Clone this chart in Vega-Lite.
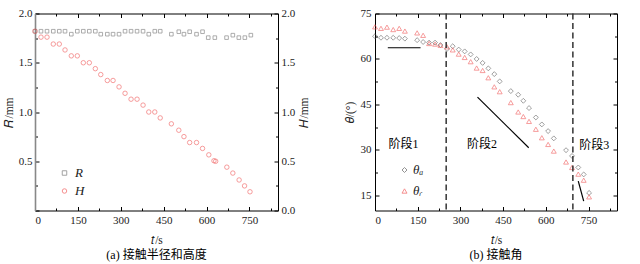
{
  "$schema": "https://vega.github.io/schema/vega-lite/v6.json",
  "padding": {"left": 3, "top": 7.5, "right": 0, "bottom": 0},
  "spacing": 33,
  "datasets": {
    "R": [
      {"t": 0, "v": 1.82, "s": "R"}, {"t": 21, "v": 1.82, "s": "R"}, {"t": 42, "v": 1.82, "s": "R"}, {"t": 64, "v": 1.82, "s": "R"},
      {"t": 85, "v": 1.82, "s": "R"}, {"t": 105, "v": 1.82, "s": "R"}, {"t": 127, "v": 1.79, "s": "R"}, {"t": 148, "v": 1.82, "s": "R"},
      {"t": 169, "v": 1.82, "s": "R"}, {"t": 190, "v": 1.82, "s": "R"}, {"t": 211, "v": 1.82, "s": "R"}, {"t": 230, "v": 1.79, "s": "R"},
      {"t": 253, "v": 1.79, "s": "R"}, {"t": 273, "v": 1.79, "s": "R"}, {"t": 294, "v": 1.79, "s": "R"}, {"t": 315, "v": 1.82, "s": "R"},
      {"t": 336, "v": 1.82, "s": "R"}, {"t": 357, "v": 1.82, "s": "R"}, {"t": 378, "v": 1.82, "s": "R"}, {"t": 398, "v": 1.79, "s": "R"},
      {"t": 419, "v": 1.82, "s": "R"}, {"t": 438, "v": 1.82, "s": "R"}, {"t": 477, "v": 1.79, "s": "R"}, {"t": 503, "v": 1.815, "s": "R"},
      {"t": 521, "v": 1.79, "s": "R"}, {"t": 541, "v": 1.815, "s": "R"}, {"t": 565, "v": 1.79, "s": "R"}, {"t": 586, "v": 1.815, "s": "R"},
      {"t": 606, "v": 1.755, "s": "R"}, {"t": 629, "v": 1.755, "s": "R"}, {"t": 670, "v": 1.755, "s": "R"}, {"t": 692, "v": 1.78, "s": "R"},
      {"t": 713, "v": 1.755, "s": "R"}, {"t": 734, "v": 1.755, "s": "R"}, {"t": 755, "v": 1.78, "s": "R"}
    ],
    "H": [
      {"t": 0, "v": 1.82, "s": "H"}, {"t": 21, "v": 1.76, "s": "H"}, {"t": 42, "v": 1.76, "s": "H"}, {"t": 64, "v": 1.69, "s": "H"},
      {"t": 85, "v": 1.69, "s": "H"}, {"t": 105, "v": 1.63, "s": "H"}, {"t": 127, "v": 1.57, "s": "H"}, {"t": 148, "v": 1.57, "s": "H"},
      {"t": 169, "v": 1.5, "s": "H"}, {"t": 190, "v": 1.5, "s": "H"}, {"t": 211, "v": 1.44, "s": "H"}, {"t": 230, "v": 1.38, "s": "H"},
      {"t": 253, "v": 1.32, "s": "H"}, {"t": 273, "v": 1.32, "s": "H"}, {"t": 294, "v": 1.255, "s": "H"}, {"t": 315, "v": 1.19, "s": "H"},
      {"t": 336, "v": 1.13, "s": "H"}, {"t": 357, "v": 1.13, "s": "H"}, {"t": 378, "v": 1.07, "s": "H"}, {"t": 398, "v": 1.0, "s": "H"},
      {"t": 419, "v": 1.0, "s": "H"}, {"t": 438, "v": 0.94, "s": "H"}, {"t": 477, "v": 0.88, "s": "H"}, {"t": 503, "v": 0.815, "s": "H"},
      {"t": 521, "v": 0.75, "s": "H"}, {"t": 541, "v": 0.69, "s": "H"}, {"t": 565, "v": 0.69, "s": "H"}, {"t": 586, "v": 0.63, "s": "H"},
      {"t": 608, "v": 0.565, "s": "H"}, {"t": 626, "v": 0.505, "s": "H"}, {"t": 632, "v": 0.5, "s": "H"}, {"t": 671, "v": 0.44, "s": "H"},
      {"t": 692, "v": 0.38, "s": "H"}, {"t": 714, "v": 0.31, "s": "H"}, {"t": 733, "v": 0.25, "s": "H"}, {"t": 752, "v": 0.19, "s": "H"}
    ],
    "theta": [
      {"t": 0, "v": 67.5, "s": "a"}, {"t": 21, "v": 67.0, "s": "a"}, {"t": 42, "v": 67.0, "s": "a"}, {"t": 64, "v": 67.0, "s": "a"},
      {"t": 85, "v": 66.9, "s": "a"}, {"t": 105, "v": 66.7, "s": "a"}, {"t": 148, "v": 66.2, "s": "a"}, {"t": 169, "v": 65.6, "s": "a"},
      {"t": 190, "v": 65.4, "s": "a"}, {"t": 211, "v": 65.4, "s": "a"}, {"t": 230, "v": 64.6, "s": "a"}, {"t": 253, "v": 63.3, "s": "a"},
      {"t": 273, "v": 64.2, "s": "a"}, {"t": 294, "v": 63.1, "s": "a"}, {"t": 315, "v": 62.5, "s": "a"}, {"t": 336, "v": 61.5, "s": "a"},
      {"t": 357, "v": 60.0, "s": "a"}, {"t": 378, "v": 58.7, "s": "a"}, {"t": 398, "v": 56.9, "s": "a"}, {"t": 419, "v": 55.0, "s": "a"},
      {"t": 438, "v": 52.6, "s": "a"}, {"t": 477, "v": 49.4, "s": "a"}, {"t": 503, "v": 48.2, "s": "a"}, {"t": 521, "v": 46.2, "s": "a"},
      {"t": 541, "v": 43.8, "s": "a"}, {"t": 565, "v": 40.7, "s": "a"}, {"t": 586, "v": 38.4, "s": "a"}, {"t": 608, "v": 36.2, "s": "a"},
      {"t": 628, "v": 33.8, "s": "a"}, {"t": 671, "v": 29.9, "s": "a"}, {"t": 692, "v": 28.0, "s": "a"}, {"t": 714, "v": 24.2, "s": "a"},
      {"t": 733, "v": 21.9, "s": "a"}, {"t": 752, "v": 15.8, "s": "a"},
      {"t": 0, "v": 70.6, "s": "r"}, {"t": 21, "v": 70.1, "s": "r"}, {"t": 42, "v": 70.5, "s": "r"}, {"t": 64, "v": 69.7, "s": "r"},
      {"t": 85, "v": 70.1, "s": "r"}, {"t": 105, "v": 69.2, "s": "r"}, {"t": 148, "v": 68.6, "s": "r"}, {"t": 169, "v": 67.8, "s": "r"},
      {"t": 190, "v": 65.1, "s": "r"}, {"t": 211, "v": 64.9, "s": "r"}, {"t": 230, "v": 64.5, "s": "r"}, {"t": 253, "v": 64.0, "s": "r"},
      {"t": 273, "v": 63.0, "s": "r"}, {"t": 294, "v": 61.6, "s": "r"}, {"t": 315, "v": 60.5, "s": "r"}, {"t": 336, "v": 59.1, "s": "r"},
      {"t": 357, "v": 57.0, "s": "r"}, {"t": 378, "v": 56.2, "s": "r"}, {"t": 398, "v": 53.8, "s": "r"}, {"t": 419, "v": 50.8, "s": "r"},
      {"t": 438, "v": 49.2, "s": "r"}, {"t": 477, "v": 45.6, "s": "r"}, {"t": 503, "v": 42.5, "s": "r"}, {"t": 521, "v": 41.0, "s": "r"},
      {"t": 541, "v": 39.4, "s": "r"}, {"t": 565, "v": 36.8, "s": "r"}, {"t": 586, "v": 34.0, "s": "r"}, {"t": 608, "v": 31.8, "s": "r"},
      {"t": 628, "v": 29.6, "s": "r"}, {"t": 671, "v": 26.0, "s": "r"}, {"t": 692, "v": 24.2, "s": "r"}, {"t": 714, "v": 22.0, "s": "r"},
      {"t": 733, "v": 20.0, "s": "r"}, {"t": 752, "v": 14.5, "s": "r"}
    ],
    "stages": [{"t": 250}, {"t": 695}],
    "slopes": [
      {"t": 45, "v": 63.7, "t2": 160, "v2": 63.7},
      {"t": 360, "v": 47.4, "t2": 540, "v2": 30.7},
      {"t": 714, "v": 19.7, "t2": 733, "v2": 13.1}
    ],
    "labels": [
      {"t": 100, "v": 32, "txt": "阶段1"},
      {"t": 376, "v": 32, "txt": "阶段2"},
      {"t": 770, "v": 31.5, "txt": "阶段3"}
    ]
  },
  "hconcat": [
    {
      "width": 243,
      "height": 197,
      "title": {"text": "(a) 接触半径和高度", "orient": "bottom", "anchor": "middle", "font": "Liberation Serif, Times New Roman, Noto Sans CJK SC", "fontSize": 12, "fontWeight": "normal", "offset": 4},
      "layer": [
        {
          "data": {"name": "R"},
          "mark": {"type": "point", "filled": false, "strokeWidth": 0.8, "size": 13},
          "encoding": {
            "x": {"field": "t", "type": "quantitative", "scale": {"domain": [0, 850]},
              "axis": {"values": [0, 75, 150, 225, 300, 375, 450, 525, 600, 675, 750, 825], "labelExpr": "datum.value % 150 === 0 ? datum.label : ''",
                "tickSize": {"condition": {"test": "datum.value % 150 === 0", "value": -4}, "value": -2.5}, "labelPadding": 8, "title": "𝑡/s", "titlePadding": 9}},
            "y": {"field": "v", "type": "quantitative", "scale": {"domain": [0, 2]},
              "axis": {"values": [0, 0.25, 0.5, 0.75, 1, 1.25, 1.5, 1.75, 2], "labelExpr": "datum.value > 0 && datum.value % 0.5 === 0 ? format(datum.value, '.1f') : ''",
                "tickSize": {"condition": {"test": "datum.value % 0.5 === 0", "value": -4}, "value": -2.5}, "labelPadding": 7, "title": "𝑅/mm", "titlePadding": 4, "domainColor": "#888888", "domainWidth": 1.6}},
            "color": {"field": "s", "type": "nominal", "scale": {"domain": ["R", "H"], "range": ["#6e6e6e", "#f05050"]},
              "legend": {"title": null, "orient": "none", "legendX": 23, "legendY": 153, "padding": 0, "rowPadding": 4, "labelFontStyle": "italic", "labelFontSize": 13, "symbolStrokeWidth": 0.9, "symbolSize": 20, "labelOffset": 4}},
            "shape": {"field": "s", "type": "nominal", "scale": {"domain": ["R", "H"], "range": ["square", "circle"]},
              "legend": {"title": null, "orient": "none", "legendX": 23, "legendY": 153, "padding": 0, "rowPadding": 4, "labelFontStyle": "italic", "labelFontSize": 13, "symbolStrokeWidth": 0.9, "symbolSize": 20, "labelOffset": 4}}
          }
        },
        {
          "data": {"name": "H"},
          "mark": {"type": "point", "filled": false, "strokeWidth": 0.8, "size": 20},
          "encoding": {
            "x": {"field": "t", "type": "quantitative", "scale": {"domain": [0, 850]},
              "axis": {"orient": "top", "values": [0, 75, 150, 225, 300, 375, 450, 525, 600, 675, 750, 825], "labels": false, "title": null,
                "tickSize": {"condition": {"test": "datum.value % 150 === 0", "value": -4}, "value": -2.5}}},
            "y": {"field": "v", "type": "quantitative", "scale": {"domain": [0, 2]},
              "axis": {"orient": "right", "values": [0, 0.25, 0.5, 0.75, 1, 1.25, 1.5, 1.75, 2], "labelExpr": "datum.value % 0.5 === 0 ? format(datum.value, '.1f') : ''",
                "tickSize": {"condition": {"test": "datum.value % 0.5 === 0", "value": -4}, "value": -2.5}, "labelPadding": 7, "title": "𝐻/mm", "titlePadding": 4, "titleAngle": 270, "titleBaseline": "top"}},
            "color": {"field": "s", "type": "nominal", "scale": {"domain": ["R", "H"], "range": ["#6e6e6e", "#f05050"]},
              "legend": {"title": null, "orient": "none", "legendX": 23, "legendY": 153, "padding": 0, "rowPadding": 4, "labelFontStyle": "italic", "labelFontSize": 13, "symbolStrokeWidth": 0.9, "symbolSize": 20, "labelOffset": 4}},
            "shape": {"field": "s", "type": "nominal", "scale": {"domain": ["R", "H"], "range": ["square", "circle"]},
              "legend": {"title": null, "orient": "none", "legendX": 23, "legendY": 153, "padding": 0, "rowPadding": 4, "labelFontStyle": "italic", "labelFontSize": 13, "symbolStrokeWidth": 0.9, "symbolSize": 20, "labelOffset": 4}}
          }
        }
      ],
      "resolve": {"axis": {"x": "independent", "y": "independent"}}
    },
    {
      "width": 242,
      "height": 197,
      "title": {"text": "(b) 接触角", "orient": "bottom", "anchor": "middle", "font": "Liberation Serif, Times New Roman, Noto Sans CJK SC", "fontSize": 12, "fontWeight": "normal", "offset": 4},
      "layer": [
        {
          "data": {"name": "theta"},
          "mark": {"type": "point", "filled": false, "strokeWidth": 0.8, "size": 24},
          "encoding": {
            "x": {"field": "t", "type": "quantitative", "scale": {"domain": [0, 850]},
              "axis": {"values": [0, 75, 150, 225, 300, 375, 450, 525, 600, 675, 750, 825], "labelExpr": "datum.value % 150 === 0 ? datum.label : ''",
                "tickSize": {"condition": {"test": "datum.value % 150 === 0", "value": -4}, "value": -2.5}, "labelPadding": 8, "title": "𝑡/s", "titlePadding": 9}},
            "y": {"field": "v", "type": "quantitative", "scale": {"domain": [10, 75]},
              "axis": {"values": [15, 22.5, 30, 37.5, 45, 52.5, 60, 67.5, 75], "labelExpr": "datum.value % 15 === 0 ? datum.label : ''",
                "tickSize": {"condition": {"test": "datum.value % 15 === 0", "value": -4}, "value": -2.5}, "labelPadding": 8, "title": "𝜃/(°)", "titlePadding": 5}},
            "color": {"field": "s", "type": "nominal", "scale": {"domain": ["a", "r"], "range": ["#555555", "#f05050"]},
              "legend": {"title": null, "orient": "none", "legendX": 23, "legendY": 150, "padding": 0, "rowPadding": 7, "labelExpr": "datum.label === 'a' ? 'θₐ' : 'θᵣ'", "labelFontStyle": "italic", "labelFontSize": 13, "symbolStrokeWidth": 0.9, "symbolSize": 25, "labelOffset": 2}},
            "shape": {"field": "s", "type": "nominal", "scale": {"domain": ["a", "r"], "range": ["diamond", "triangle-up"]},
              "legend": {"title": null, "orient": "none", "legendX": 23, "legendY": 150, "padding": 0, "rowPadding": 7, "labelExpr": "datum.label === 'a' ? 'θₐ' : 'θᵣ'", "labelFontStyle": "italic", "labelFontSize": 13, "symbolStrokeWidth": 0.9, "symbolSize": 25, "labelOffset": 2}}
          }
        },
        {
          "data": {"name": "stages"},
          "mark": {"type": "rule", "strokeDash": [6, 3.5], "strokeWidth": 1.5, "color": "#333333"},
          "encoding": {
            "x": {"field": "t", "type": "quantitative", "scale": {"domain": [0, 850]},
              "axis": {"orient": "top", "values": [0, 75, 150, 225, 300, 375, 450, 525, 600, 675, 750, 825], "labels": false, "title": null,
                "tickSize": {"condition": {"test": "datum.value % 150 === 0", "value": -4}, "value": -2.5}}}
          }
        },
        {
          "data": {"name": "slopes"},
          "mark": {"type": "rule", "strokeWidth": 1.2, "color": "#000000"},
          "encoding": {
            "x": {"field": "t", "type": "quantitative", "scale": {"domain": [0, 850]}, "axis": null},
            "x2": {"field": "t2"},
            "y": {"field": "v", "type": "quantitative", "scale": {"domain": [10, 75]},
              "axis": {"orient": "right", "values": [15, 22.5, 30, 37.5, 45, 52.5, 60, 67.5, 75], "labels": false, "title": null,
                "tickSize": {"condition": {"test": "datum.value % 15 === 0", "value": -4}, "value": -2.5}}},
            "y2": {"field": "v2"}
          }
        },
        {
          "data": {"name": "labels"},
          "mark": {"type": "text", "font": "Liberation Serif, Times New Roman, Noto Sans CJK SC", "fontSize": 12, "color": "#000000"},
          "encoding": {
            "x": {"field": "t", "type": "quantitative", "scale": {"domain": [0, 850]}, "axis": null},
            "y": {"field": "v", "type": "quantitative", "scale": {"domain": [10, 75]}, "axis": null},
            "text": {"field": "txt"}
          }
        }
      ],
      "resolve": {"axis": {"x": "independent", "y": "independent"}}
    }
  ],
  "resolve": {"scale": {"color": "independent", "shape": "independent"}, "legend": {"color": "independent", "shape": "independent"}},
  "config": {
    "font": "Liberation Serif",
    "view": {"stroke": null},
    "axis": {"grid": false, "domainColor": "#000000", "domainWidth": 1, "tickColor": "#000000", "tickWidth": 1, "labelFont": "Liberation Serif, Times New Roman, serif", "labelFontSize": 11, "labelColor": "#222222", "titleFont": "Liberation Serif, Times New Roman, serif", "titleFontSize": 11.5, "titleFontWeight": "normal", "titleColor": "#222222"},
    "legend": {"labelFont": "Liberation Serif, Times New Roman, serif", "labelColor": "#222222"}
  }
}
